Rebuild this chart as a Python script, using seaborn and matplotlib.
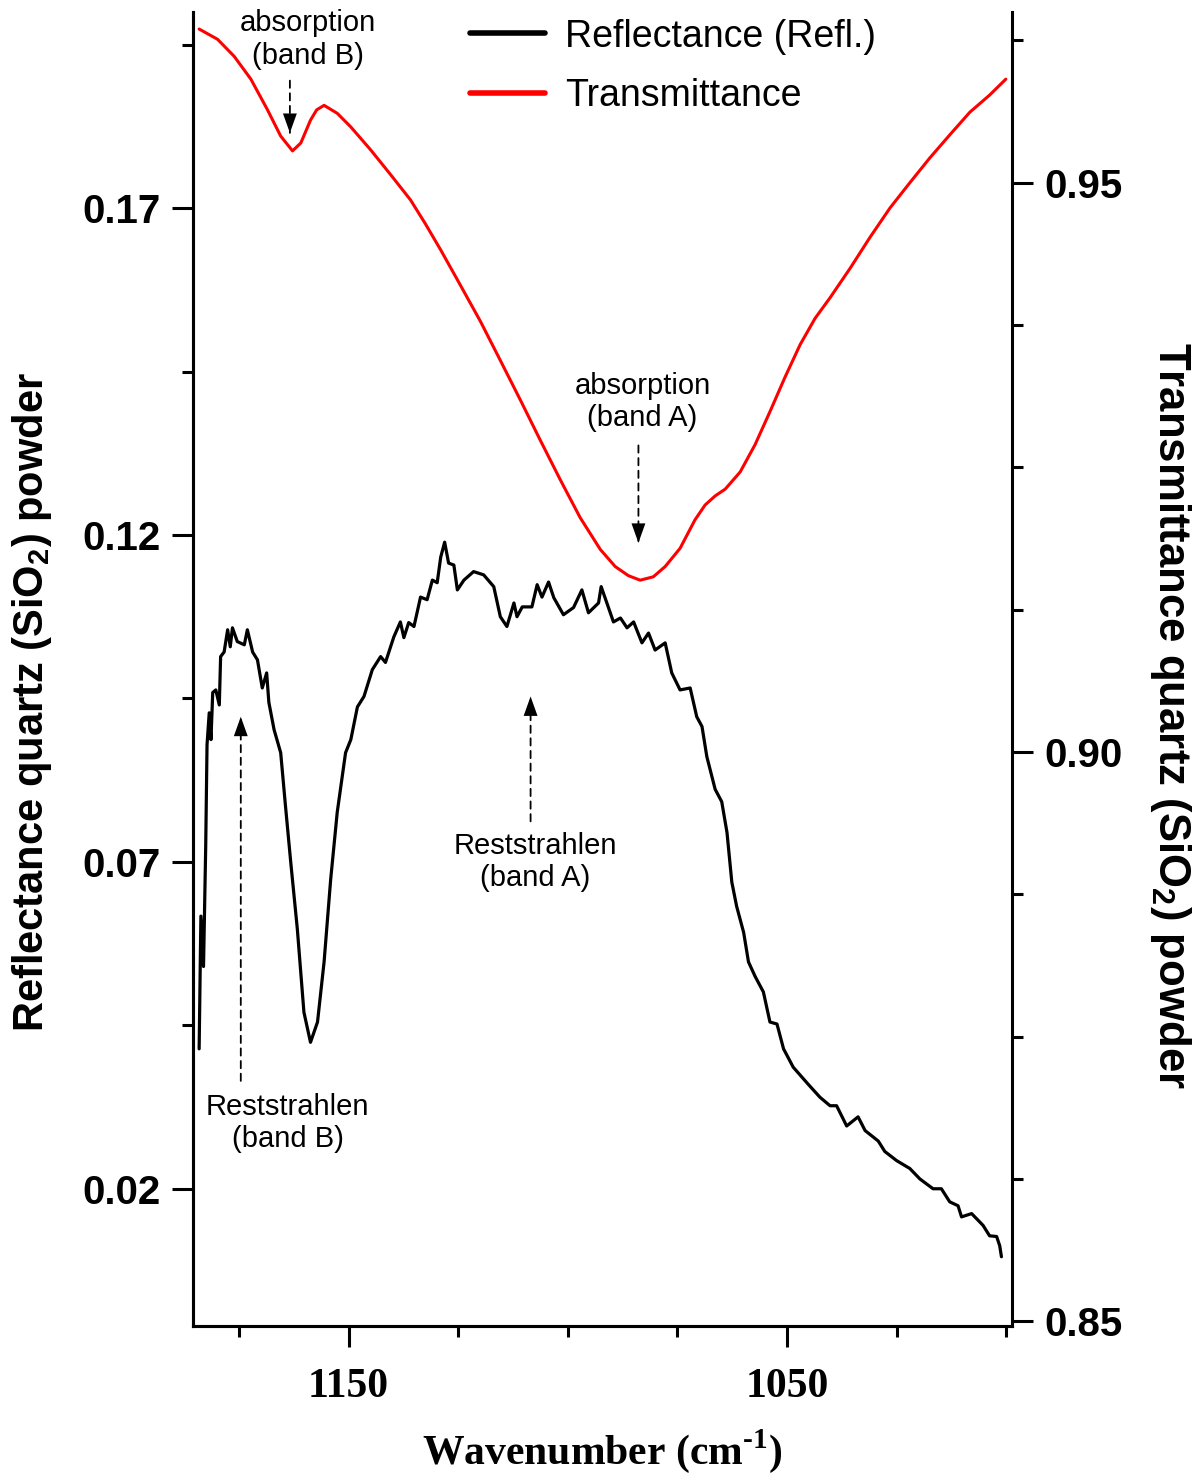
import numpy as np
import pandas as pd
import matplotlib
matplotlib.use("Agg")
import matplotlib.pyplot as plt
from matplotlib.ticker import FixedLocator, MultipleLocator
import seaborn as sns

# ── data ─────────────────────────────────────────────────────────────────────
refl_wn = [1184.1, 1183.7, 1183.1, 1182.6, 1182.3, 1181.8, 1181.4, 1181.0, 1180.3,
           1179.5, 1179.2, 1178.4, 1177.6, 1177.0, 1176.5, 1175.4, 1173.8, 1173.1,
           1171.9, 1170.8, 1169.7, 1168.7, 1168.2, 1167.0, 1165.5, 1164.4, 1163.2,
           1161.7, 1160.2, 1158.7, 1157.1, 1155.6, 1154.1, 1152.6, 1150.7, 1149.5,
           1148.0, 1146.5, 1144.6, 1142.7, 1141.6, 1139.7, 1138.2, 1137.4, 1136.3,
           1135.1, 1133.6, 1132.1, 1130.9, 1129.8, 1129.0, 1128.1, 1127.2, 1126.0,
           1125.2, 1123.7, 1121.5, 1119.2, 1116.9, 1115.4, 1113.9, 1112.3, 1111.6,
           1110.4, 1108.2, 1107.0, 1105.9, 1104.4, 1103.2, 1101.0, 1098.7, 1096.8,
           1095.3, 1093.0, 1092.4, 1091.1, 1089.6, 1088.0, 1086.5, 1085.0, 1083.1,
           1081.6, 1080.1, 1077.8, 1076.3, 1074.4, 1072.1, 1070.6, 1069.4, 1068.3,
           1066.4, 1064.9, 1063.7, 1062.6, 1061.5, 1059.9, 1058.8, 1057.3, 1055.4,
           1053.9, 1052.3, 1050.8, 1048.6, 1045.2, 1042.5, 1040.2, 1038.7, 1036.4,
           1033.8, 1032.2, 1029.2, 1027.7, 1025.0, 1022.0, 1019.7, 1016.7, 1014.8,
           1012.9, 1011.0, 1010.2, 1007.9, 1005.3, 1003.8, 1002.2, 1001.5, 1001.1]
refl_val = [0.0414, 0.0617, 0.0540, 0.0724, 0.0879, 0.0928, 0.0887, 0.0959, 0.0963,
            0.0940, 0.1014, 0.1021, 0.1055, 0.1029, 0.1058, 0.1037, 0.1032, 0.1055,
            0.1021, 0.1009, 0.0966, 0.0989, 0.0944, 0.0902, 0.0867, 0.0785, 0.0699,
            0.0597, 0.0470, 0.0424, 0.0455, 0.0547, 0.0673, 0.0776, 0.0867, 0.0887,
            0.0937, 0.0953, 0.0994, 0.1014, 0.1005, 0.1044, 0.1067, 0.1043, 0.1066,
            0.1060, 0.1105, 0.1101, 0.1131, 0.1127, 0.1166, 0.1189, 0.1157, 0.1154,
            0.1116, 0.1131, 0.1144, 0.1139, 0.1121, 0.1075, 0.1060, 0.1096, 0.1075,
            0.1090, 0.1090, 0.1124, 0.1105, 0.1128, 0.1104, 0.1078, 0.1089, 0.1116,
            0.1081, 0.1096, 0.1121, 0.1096, 0.1067, 0.1073, 0.1058, 0.1067, 0.1035,
            0.1050, 0.1024, 0.1035, 0.0989, 0.0963, 0.0966, 0.0922, 0.0907, 0.0861,
            0.0811, 0.0792, 0.0745, 0.0669, 0.0632, 0.0592, 0.0547, 0.0525, 0.0501,
            0.0455, 0.0452, 0.0414, 0.0386, 0.0360, 0.0340, 0.0327, 0.0327, 0.0296,
            0.0310, 0.0289, 0.0273, 0.0257, 0.0243, 0.0231, 0.0215, 0.0200, 0.0200,
            0.0180, 0.0174, 0.0157, 0.0162, 0.0144, 0.0128, 0.0127, 0.0113, 0.0096]

trans_wn = [1184.1, 1179.9, 1176.1, 1172.3, 1168.5, 1165.5, 1162.8, 1160.9, 1158.7,
            1157.3, 1155.6, 1152.6, 1149.5, 1145.0, 1140.4, 1135.9, 1132.5, 1129.0,
            1124.5, 1119.9, 1115.4, 1110.8, 1106.3, 1101.7, 1097.2, 1092.6, 1089.2,
            1086.2, 1083.5, 1080.5, 1077.8, 1074.4, 1071.0, 1068.7, 1066.4, 1064.1,
            1060.7, 1057.3, 1053.9, 1050.5, 1047.0, 1043.6, 1040.2, 1035.6, 1031.1,
            1026.5, 1022.0, 1017.4, 1012.9, 1008.3, 1003.8, 1000.1]
trans_val = [0.9635, 0.9626, 0.9611, 0.9591, 0.9564, 0.9541, 0.9528, 0.9535, 0.9555,
             0.9564, 0.9568, 0.9561, 0.9549, 0.9529, 0.9507, 0.9485, 0.9464, 0.9441,
             0.9410, 0.9378, 0.9344, 0.9309, 0.9274, 0.9239, 0.9206, 0.9178, 0.9163,
             0.9155, 0.9151, 0.9154, 0.9163, 0.9179, 0.9204, 0.9217, 0.9225, 0.9231,
             0.9246, 0.9270, 0.9299, 0.9329, 0.9358, 0.9381, 0.9399, 0.9425, 0.9452,
             0.9478, 0.9500, 0.9522, 0.9542, 0.9562, 0.9577, 0.9591]

refl_ticks = [0.02, 0.07, 0.12, 0.17]
trans_ticks = [0.85, 0.90, 0.95]
wn_ticks = [1150, 1050]

# ── style ────────────────────────────────────────────────────────────────────
sns.set_style("ticks")
plt.rcParams.update({
    "font.family": ["Liberation Sans", "DejaVu Sans"],
    "mathtext.fontset": "custom",
    "mathtext.rm": "Liberation Serif:bold",
    "mathtext.bf": "Liberation Sans:bold",
    "axes.linewidth": 2.2,
    "text.color": "black",
    "axes.labelcolor": "black",
    "axes.edgecolor": "black",
    "xtick.color": "black",
    "ytick.color": "black",
})

df_r = pd.DataFrame({"wn": refl_wn, "val": refl_val})
df_t = pd.DataFrame({"wn": trans_wn, "val": trans_val})

fig = plt.figure(figsize=(12.01, 14.77), dpi=100)
ax = fig.add_axes([0.1607, 0.1022, 0.6819, 0.8897])
ax2 = ax.twinx()

sns.lineplot(data=df_r, x="wn", y="val", ax=ax, color="black", lw=2.3,
             estimator=None, label="Reflectance (Refl.)")
sns.lineplot(data=df_t, x="wn", y="val", ax=ax2, color="#ff0000", lw=2.2,
             estimator=None, label="Transmittance")

ax.set_xlim(1185.5, 998.7)
ax.set_ylim(-0.001, 0.2)
ax2.set_ylim(0.8496, 0.965)

for a in (ax, ax2):
    a.spines["top"].set_visible(False)
    for s in a.spines.values():
        s.set_linewidth(2.2)
        s.set_color("black")
ax.spines["right"].set_visible(False)

# ticks
ax.xaxis.set_major_locator(FixedLocator(wn_ticks))
ax.xaxis.set_minor_locator(MultipleLocator(25))
ax.yaxis.set_major_locator(FixedLocator(refl_ticks))
ax.yaxis.set_minor_locator(FixedLocator([t + 0.025 for t in refl_ticks]))
ax2.yaxis.set_major_locator(FixedLocator(trans_ticks))
ax2.yaxis.set_minor_locator(MultipleLocator(0.0125))
ax.set_yticklabels([f"{t:.2f}" for t in refl_ticks])
ax2.set_yticklabels([f"{t:.2f}" for t in trans_ticks])

ax.tick_params(axis="both", which="major", length=15, width=2.2, labelsize=29, pad=8)
ax.tick_params(axis="both", which="minor", length=8, width=2.2)
ax.tick_params(axis="x", which="major", pad=15)
ax2.tick_params(axis="y", which="major", length=15, width=2.2, labelsize=29, pad=8)
ax2.tick_params(axis="y", which="minor", length=8, width=2.2)
for lab in ax.get_yticklabels() + ax2.get_yticklabels():
    lab.set_fontweight("bold")
for lab in ax.get_xticklabels():
    lab.set_fontfamily("Liberation Serif")
    lab.set_fontweight("bold")
    lab.set_fontsize(30)

# labels
ax.set_xlabel("Wavenumber (cm$^{\\text{-1}}$)", fontsize=30, fontweight="bold",
              family="Liberation Serif")
ax.xaxis.set_label_coords(0.5, -0.077)
ax.set_ylabel("Reflectance quartz (SiO$_{\\mathbf{2}}$) powder", fontsize=30,
              fontweight="bold")
ax.yaxis.set_label_coords(-0.170, 0.475)
ax2.set_ylabel("Transmittance quartz (SiO$_{\\mathbf{2}}$) powder", fontsize=31.5,
               fontweight="bold", rotation=270, va="bottom")
ax2.yaxis.set_label_coords(1.166, 0.465)

# legend
h1, l1 = ax.get_legend_handles_labels()
h2, l2 = ax2.get_legend_handles_labels()
ax.get_legend().remove()
ax2.legend(h1 + h2, l1 + l2, loc="upper left", bbox_to_anchor=(0.338, 0.995),
           frameon=False, fontsize=27, handlelength=2.0, handletextpad=0.55,
           labelspacing=0.62, borderpad=0, borderaxespad=0)
for ln in ax2.get_legend().get_lines():
    ln.set_linewidth(4)

# annotations (left-axis data coords)
notes = [
    ("absorption\n(band B)", (1159.3, 0.1958), (1163.4, 0.1895), (1163.4, 0.1815)),
    ("absorption\n(band A)", (1083.0, 0.1403), (1083.9, 0.1337), (1083.9, 0.1188)),
    ("Reststrahlen\n(band A)", (1107.4, 0.0700), (1108.5, 0.0762), (1108.5, 0.0953)),
    ("Reststrahlen\n(band B)", (1163.9, 0.0301), (1174.6, 0.0365), (1174.6, 0.0922)),
]
for text, pos, tail, tip in notes:
    ax.text(pos[0], pos[1], text, ha="center", va="center", fontsize=21,
            linespacing=1.2, zorder=5)
    ax.annotate("", xy=tip, xytext=tail,
                arrowprops=dict(arrowstyle="-", lw=1.3, ls=(0, (4, 3)),
                                shrinkA=0, shrinkB=0, color="black"))
    ax.annotate("", xy=tip, xytext=(tip[0], tip[1] - np.sign(tip[1] - tail[1]) * 0.002),
                arrowprops=dict(arrowstyle="-|>,head_length=14,head_width=5",
                                mutation_scale=1, lw=0, fc="black",
                                shrinkA=0, shrinkB=0))

fig.savefig("out.png", dpi=100)
